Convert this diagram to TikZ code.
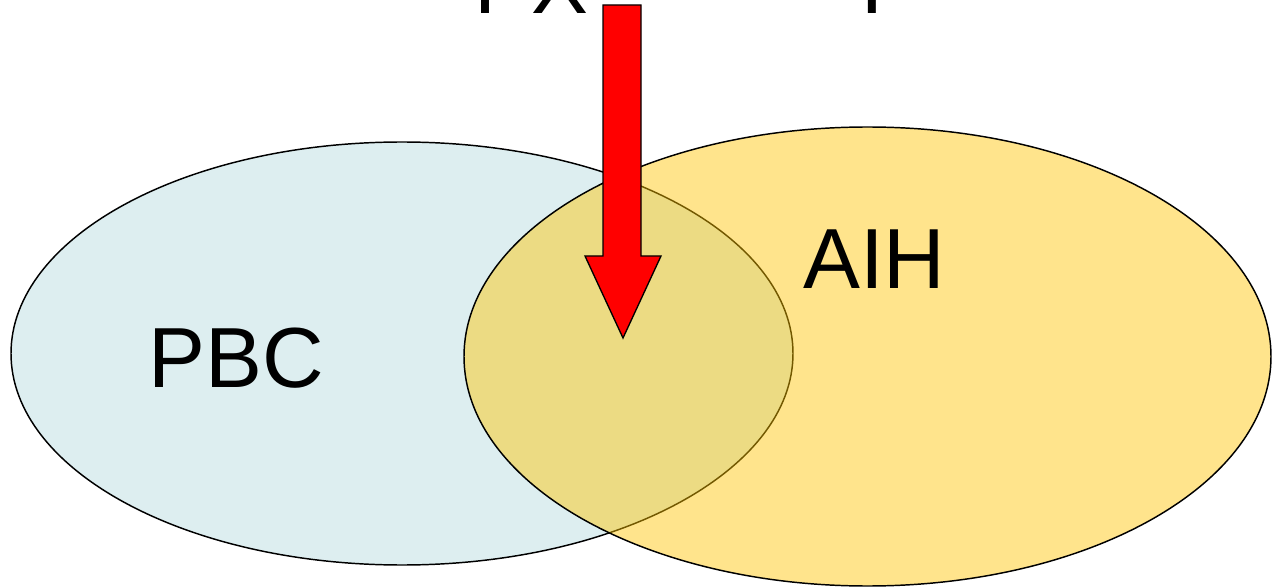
\documentclass[tikz,border=0pt]{standalone}
\usepackage{fontspec}
\setmainfont{Liberation Sans}
\definecolor{pbcblue}{RGB}{221,238,240}
\definecolor{aihyellow}{RGB}{255,196,0}
\definecolor{arrowred}{RGB}{255,0,0}
\begin{document}
\begin{tikzpicture}[x=0.75pt,y=-0.75pt,
  outline/.style={draw=black,line width=1.1pt},
  lbl/.style={font=\fontsize{64}{68}\selectfont,inner sep=0pt,anchor=base west}]
\useasboundingbox (0,0) rectangle (1272,588);
\fill[white] (0,0) rectangle (1272,588);
% PBC ellipse
\draw[outline,fill=pbcblue] (402,353.5) ellipse [x radius=391,y radius=211.5];
% AIH ellipse (translucent)
\fill[aihyellow,fill opacity=0.45] (867.5,356.5) ellipse [x radius=403.5,y radius=229.5];
\draw[outline] (867.5,356.5) ellipse [x radius=403.5,y radius=229.5];
% red arrow
\draw[draw=black,line width=1pt,fill=arrowred,line join=miter]
  (603,5) -- (641,5) -- (641,256) -- (661,256) -- (623,338) -- (585,256) -- (603,256) -- cycle;
% labels
\node[lbl] (pbc) at (148,387) {PBC};
\node[lbl] (aih) at (803,288) {AIH};
\node[lbl] (topa) at (474,14) {PX};
\node[lbl] (topb) at (860,14) {I};
\end{tikzpicture}
\end{document}
